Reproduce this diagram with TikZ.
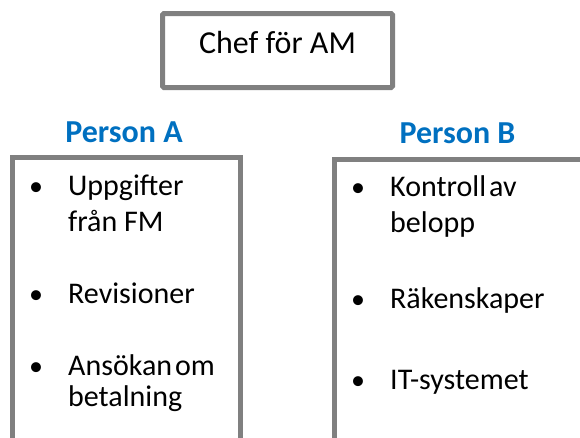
\documentclass[tikz,border=0pt]{standalone}
\usepackage{fontspec}
\setmainfont{Carlito}
\definecolor{boxgray}{HTML}{808080}
\definecolor{headblue}{HTML}{0070C0}
\begin{document}
\begin{tikzpicture}[x=1pt,y=-1pt,
  frame/.style={draw=boxgray, line width=5pt},
  txt/.style={inner sep=0pt, anchor=base west, font=\fontsize{30}{36}\selectfont},
  bul/.style={inner sep=0pt, anchor=base, font=\fontsize{28}{34}\selectfont},
  head/.style={inner sep=0pt, anchor=base, text=headblue, font=\fontsize{32}{38}\selectfont\bfseries}]
\useasboundingbox (0,0) rectangle (580,437);
\clip (0,0) rectangle (580,437);
% top box
\draw[frame, rounded corners=1.5pt] (162.5,13.5) rectangle (392.5,87.5);
\node[inner sep=0pt, anchor=base, font=\fontsize{32}{38}\selectfont] (chef) at (277.5,53) {Chef för AM};
% headings
\node[head] (pa) at (124,142) {Person A};
\node[head] (pb) at (457.5,143) {Person B};
% open boxes
\draw[frame] (12.5,470) -- (12.5,157.5) -- (240.5,157.5) -- (240.5,470);
\draw[frame] (334.5,470) -- (334.5,159.5) -- (600,159.5);
% left list
\node[bul] (ba1) at (36,195) {•};
\node[txt] (a1) at (68,195) {Uppgifter};
\node[txt] (a1b) at (68,231) {från FM};
\node[bul] (ba2) at (36,303) {•};
\node[txt] (a2) at (68,303) {Revisioner};
\node[bul] (ba3) at (36,375) {•};
\node[txt] (a3) at (68,375) {Ansökan\hspace{3pt}om};
\node[txt] (a3b) at (68,406) {betalning};
% right list
\node[bul] (bb1) at (358,196) {•};
\node[txt] (b1) at (390,196) {Kontroll\hspace{3pt}av};
\node[txt] (b1b) at (390,232) {belopp};
\node[bul] (bb2) at (358,308) {•};
\node[txt] (b2) at (390,308) {Räkenskaper};
\node[bul] (bb3) at (358,389) {•};
\node[txt] (b3) at (390,389) {IT-systemet};
\end{tikzpicture}
\end{document}
